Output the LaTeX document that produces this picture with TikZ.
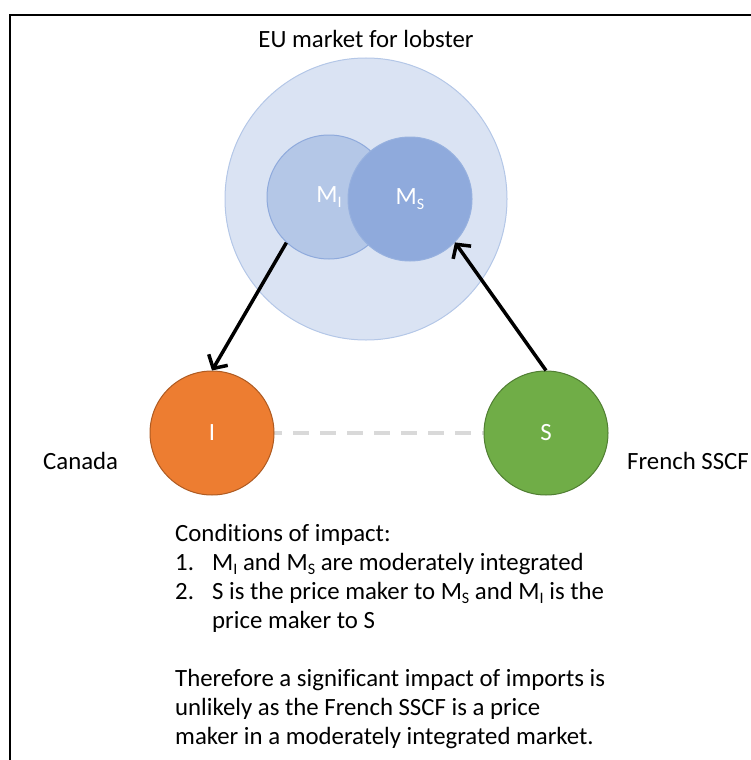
\documentclass[tikz,border=0pt]{standalone}
\usepackage{fontspec}
\setmainfont[Ligatures={NoCommon,NoContextual},Contextuals=NoAlternate]{Carlito}
\usepackage{tikz}
\usetikzlibrary{shapes,arrows.meta}
\definecolor{eufill}{HTML}{DAE3F3}
\definecolor{euline}{HTML}{B4C7E7}
\definecolor{mifill}{HTML}{B4C7E7}
\definecolor{miline}{HTML}{8FAADC}
\definecolor{msfill}{HTML}{8FAADC}
\definecolor{msline}{HTML}{97B1DF}
\definecolor{impfill}{HTML}{ED7D31}
\definecolor{impline}{HTML}{AE5A21}
\definecolor{sscffill}{HTML}{70AD47}
\definecolor{sscfline}{HTML}{507E32}
\definecolor{dashgray}{HTML}{D9D9D9}
\tikzstyle{line} = [draw, line width=3.5pt, -{Straight Barb[length=10pt,width=22pt]}]
\newcommand{\lowsub}[1]{\raisebox{-0.4ex}{\fontsize{16}{16}\selectfont #1}}

\begin{document}
\begin{tikzpicture}
  [x=1pt,y=-1pt,every node/.style={font=\fontsize{24.8}{29}\selectfont}]
  \tikzstyle{market} = [circle, inner sep=0pt, minimum size=124pt, line width=1pt, text=white]
  \tikzstyle{caption} = [anchor=base west, inner sep=0pt]
  \useasboundingbox (0,0) rectangle (751,760);
  % frame
  \draw[line width=2pt] (10,790) -- (10,15) -- (790,15);

  \node (eu) [circle, inner sep=0pt, minimum size=282pt, fill=eufill, draw=euline, line width=1pt] at (366,199) {};
  \node (eu_label) [anchor=base, inner sep=0pt] at (366,48) {EU market for lobster};
  \node (m_i) [market, fill=mifill, draw=miline] at (329,197) {M\lowsub{I}};
  \node (m_s) [market, fill=msfill, draw=msline] at (410,199) {M\lowsub{S}};

  \draw [dashgray, line width=4pt, dash pattern=on 16pt off 11pt] (212,433) -- (546,433);
  \node (imp) [market, fill=impfill, draw=impline] at (212,433) {I};
  \node (sscf) [market, fill=sscffill, draw=sscfline] at (546,433) {S};
  \node (canada) [caption] at (43,469) {Canada};
  \node (french) [caption] at (627,469) {French SSCF};

  \path [line] (m_i.227) -- (imp.north);
  \path [line] (sscf.north) -- (m_s.316);

  % conditions
  \node (cond) [caption] at (175,541) {Conditions of impact:};
  \node (c1_num) [caption] at (175,570) {1.};
  \node (c1) [caption] at (212,570) {M\lowsub{I} and M\lowsub{S} are moderately integrated};
  \node (c2_num) [caption] at (175,599) {2.};
  \node (c2) [caption] at (212,599) {S is the price maker to M\lowsub{S} and M\lowsub{I} is the};
  \node (c2_b) [caption] at (212,628) {price maker to S};

  \node (concl_a) [caption] at (175,686) {Therefore a significant impact of imports is};
  \node (concl_b) [caption] at (175,715) {unlikely as the French SSCF is a price};
  \node (concl_c) [caption] at (175,744) {maker in a moderately integrated market.};

\end{tikzpicture}
\end{document}
